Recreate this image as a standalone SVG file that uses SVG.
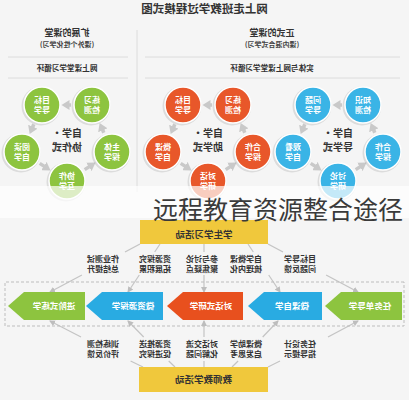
<svg xmlns="http://www.w3.org/2000/svg" width="409" height="400" viewBox="0 0 409 400">
<defs>
<style>
text{font-family:"Noto Sans CJK SC","Noto Sans",sans-serif;text-anchor:middle}
.t{font-size:11.5px;font-weight:bold;fill:#333}
.h{font-size:9px;font-weight:bold;fill:#333}
.s{font-size:7px;font-weight:bold;fill:#444}
.c{font-size:7.6px;font-weight:bold;fill:#333}
.ct{font-size:10px;font-weight:bold;fill:#333}
.nt{font-size:8px;font-weight:bold;fill:#fff}
.col{font-size:8px;font-weight:bold;fill:#333}
.bt{font-size:8.5px;font-weight:bold;fill:#fff}
.yt{font-size:9.5px;font-weight:bold;fill:#333}
.sep{stroke:#dcdcdc;stroke-width:1}
.g{fill:#8dc43f}.o{fill:#e8572a}.b{fill:#3ab4e6}
.ring{stroke:#fff;stroke-width:1.5}
.sh{fill:#000;opacity:.1}
.ca{stroke:#c9c9c9;stroke-width:3.5;fill:none;marker-end:url(#ca)}
.ln{stroke:#c4c4c4;stroke-width:1.2;fill:none}
.la{stroke:#c4c4c4;stroke-width:1.2;fill:none;marker-end:url(#la)}
.yb{fill:#f0c83c}
</style>
<marker id="ca" markerUnits="userSpaceOnUse" markerWidth="9" markerHeight="10" refX="3" refY="5" orient="auto"><path d="M0,0 L8,5 L0,10 z" fill="#c9c9c9"/></marker>
<marker id="la" markerUnits="userSpaceOnUse" markerWidth="7" markerHeight="7" refX="5" refY="3" orient="auto"><path d="M0,0 L6,3 L0,6 z" fill="#bdbdbd"/></marker>
</defs>
<rect width="409" height="400" fill="#f5f5f5"/>
<g id="mirrored" transform="matrix(-1,0,0,1,409,0)">
<g id="header">
<text class="t" x="204.5" y="13">网上走班教学过程模式图</text>
<line class="sep" x1="272" y1="30" x2="272" y2="192"/>
<text class="h" x="137" y="36">正式的课堂</text>
<text class="s" x="137" y="47">(课内混合式学习)</text>
<line class="sep" x1="9" y1="57" x2="264" y2="57"/>
<text class="c" x="137" y="71">实体与网上课堂学习循环</text>
<line class="sep" x1="9" y1="78" x2="264" y2="78"/>
<text class="h" x="342" y="36">扩展的课堂</text>
<text class="s" x="342" y="47">(课外个性化学习)</text>
<line class="sep" x1="281" y1="57" x2="401" y2="57"/>
<text class="c" x="342" y="71">网上课堂学习循环</text>
<line class="sep" x1="281" y1="78" x2="401" y2="78"/>
</g>
<g id="connectors">
<path class="ca" d="M375.2,124.3 L377.4,129.5"/><path class="ca" d="M369.3,163.4 L362.6,167.7"/><path class="ca" d="M324.3,169.6 L317.6,165.3"/><path class="ca" d="M305.2,132.7 L307.4,127.5"/><path class="ca" d="M338,105 L342.5,105"/>
<path class="ca" d="M234.2,124.3 L236.4,129.5"/><path class="ca" d="M228.3,163.4 L221.6,167.7"/><path class="ca" d="M183.3,169.6 L176.6,165.3"/><path class="ca" d="M164.2,132.7 L166.4,127.5"/><path class="ca" d="M197,105 L201.5,105"/>
<path class="ca" d="M104.2,124.3 L106.4,129.5"/><path class="ca" d="M98.3,163.4 L91.6,167.7"/><path class="ca" d="M53.3,169.6 L46.6,165.3"/><path class="ca" d="M34.2,132.7 L36.4,127.5"/><path class="ca" d="M67,105 L71.5,105"/>
<path class="ln" d="M269,244 L284,252"/><path class="la" d="M327.1,275 L359,292"/>
<path class="ln" d="M249,244 L254.3,252"/><path class="la" d="M269.7,275 L281,292"/>
<path class="ln" d="M205,244 L205,252"/><path class="la" d="M205,275 L205,292"/>
<path class="ln" d="M161,244 L155.7,252"/><path class="la" d="M140.3,275 L129,292"/>
<path class="ln" d="M141,244 L126,252"/><path class="la" d="M82.9,275 L51,292"/>
<path class="la" d="M328,337 L359,321"/><path class="ln" d="M278.4,361 L266,367"/>
<path class="la" d="M265.3,337 L281,321"/><path class="ln" d="M240.3,361 L234,367"/>
<path class="la" d="M205,337 L205,321"/><path class="ln" d="M205,361 L205,367"/>
<path class="la" d="M146.3,337 L131,321"/><path class="ln" d="M170.9,361 L177,367"/>
<path class="la" d="M81,337 L51,321"/><path class="ln" d="M129,361 L141,367"/>
</g>
<g id="cycle-green">
<text class="ct" x="342" y="137">自学·</text><text class="ct" x="342" y="151">协作式</text>
</g>
<g id="g-tr"><circle class="sh" cx="368" cy="106" r="19.5"/><circle class="g ring" cx="367" cy="105" r="18"/><text class="nt" x="367" y="103">目标</text><text class="nt" x="367" y="113">导学</text></g>
<g id="g-r"><circle class="sh" cx="388" cy="153" r="19.5"/><circle class="g ring" cx="387" cy="152" r="18"/><text class="nt" x="387" y="150">阅读</text><text class="nt" x="387" y="160">自学</text></g>
<g id="g-b"><circle class="sh" cx="343" cy="182" r="19.5"/><circle class="g ring" cx="342" cy="181" r="18"/><text class="nt" x="342" y="179">协作</text><text class="nt" x="342" y="189">互学</text></g>
<g id="g-l"><circle class="sh" cx="298" cy="153" r="19.5"/><circle class="g ring" cx="297" cy="152" r="18"/><text class="nt" x="297" y="150">主体</text><text class="nt" x="297" y="160">探学</text></g>
<g id="g-tl"><circle class="sh" cx="318" cy="106" r="19.5"/><circle class="g ring" cx="317" cy="105" r="18"/><text class="nt" x="317" y="103">练习</text><text class="nt" x="317" y="113">检测</text></g>
<g id="cycle-orange">
<text class="ct" x="201" y="137">自学·</text><text class="ct" x="201" y="151">助学式</text>
</g>
<g id="o-tr"><circle class="sh" cx="227" cy="106" r="19.5"/><circle class="o ring" cx="226" cy="105" r="18"/><text class="nt" x="226" y="103">目标</text><text class="nt" x="226" y="113">导学</text></g>
<g id="o-r"><circle class="sh" cx="247" cy="153" r="19.5"/><circle class="o ring" cx="246" cy="152" r="18"/><text class="nt" x="246" y="150">微课</text><text class="nt" x="246" y="160">自学</text></g>
<g id="o-b"><circle class="sh" cx="202" cy="182" r="19.5"/><circle class="o ring" cx="201" cy="181" r="18"/><text class="nt" x="201" y="179">对话</text><text class="nt" x="201" y="189">研学</text></g>
<g id="o-l"><circle class="sh" cx="157" cy="153" r="19.5"/><circle class="o ring" cx="156" cy="152" r="18"/><text class="nt" x="156" y="150">合作</text><text class="nt" x="156" y="160">探学</text></g>
<g id="o-tl"><circle class="sh" cx="177" cy="106" r="19.5"/><circle class="o ring" cx="176" cy="105" r="18"/><text class="nt" x="176" y="103">练习</text><text class="nt" x="176" y="113">检测</text></g>
<g id="cycle-blue">
<text class="ct" x="71" y="137">自学·</text><text class="ct" x="71" y="151">导学式</text>
</g>
<g id="b-tr"><circle class="sh" cx="97" cy="106" r="19.5"/><circle class="b ring" cx="96" cy="105" r="18"/><text class="nt" x="96" y="103">问题</text><text class="nt" x="96" y="113">导学</text></g>
<g id="b-r"><circle class="sh" cx="117" cy="153" r="19.5"/><circle class="b ring" cx="116" cy="152" r="18"/><text class="nt" x="116" y="150">观看</text><text class="nt" x="116" y="160">自学</text></g>
<g id="b-b"><circle class="sh" cx="72" cy="182" r="19.5"/><circle class="b ring" cx="71" cy="181" r="18"/><text class="nt" x="71" y="179">讨论</text><text class="nt" x="71" y="189">研学</text></g>
<g id="b-l"><circle class="sh" cx="27" cy="153" r="19.5"/><circle class="b ring" cx="26" cy="152" r="18"/><text class="nt" x="26" y="150">合作</text><text class="nt" x="26" y="160">探学</text></g>
<g id="b-tl"><circle class="sh" cx="47" cy="106" r="19.5"/><circle class="b ring" cx="46" cy="105" r="18"/><text class="nt" x="46" y="103">知识</text><text class="nt" x="46" y="113">检测</text></g>
<g id="student-box"><rect class="yb" x="141" y="220" width="128" height="24"/><text class="yt" x="205" y="237.5">学生学习活动</text></g>
<g id="student-texts">
<text class="col" x="109" y="262">目标导学</text><text class="col" x="109" y="272">问题反馈</text>
<text class="col" x="163" y="262">自学微课</text><text class="col" x="163" y="272">梳理内化</text>
<text class="col" x="207" y="262">参与讨论</text><text class="col" x="207" y="272">聚焦疑点</text>
<text class="col" x="254" y="262">资源探究</text><text class="col" x="254" y="272">拓展积累</text>
<text class="col" x="306" y="262">作业测试</text><text class="col" x="306" y="272">总结提升</text>
</g>
<rect x="5" y="282" width="399" height="44" fill="none" stroke="#bdbdbd" stroke-width="1" stroke-dasharray="3,2"/>
<g id="s1"><polygon class="g" points="7,292 68,292 84,306 68,320 7,320"/><text class="bt" x="39" y="309">任务单导学</text></g>
<g id="s2"><polygon fill="#29abe2" points="87,292 145,292 161,306 145,320 87,320"/><text class="bt" x="117" y="309">微课自学</text></g>
<g id="s3"><polygon fill="#e8501e" points="166,292 226,292 242,306 226,320 166,320"/><text class="bt" x="198" y="309">对话式研学</text></g>
<g id="s4"><polygon fill="#29abe2" points="246,292 307,292 323,306 307,320 246,320"/><text class="bt" x="276" y="309">微资源探学</text></g>
<g id="s5"><polygon class="g" points="324,292 385,292 401,306 385,320 324,320"/><text class="bt" x="355" y="309">进阶式练学</text></g>
<g id="teacher-texts">
<text class="col" x="109" y="346.5">任务设计</text><text class="col" x="109" y="357">指导提示</text>
<text class="col" x="163" y="346.5">微课助学</text><text class="col" x="163" y="357">启发思考</text>
<text class="col" x="207" y="346.5">对话交流</text><text class="col" x="207" y="357">化解问题</text>
<text class="col" x="254" y="346.5">资源推送</text><text class="col" x="254" y="357">促进探究</text>
<text class="col" x="306" y="346.5">训练检测</text><text class="col" x="306" y="357">评价反馈</text>
</g>
<g id="teacher-box"><rect class="yb" x="141" y="367" width="129" height="25"/><text class="yt" x="205.5" y="383">教师教学活动</text></g>
</g>
<rect x="0" y="186" width="409" height="32" fill="#fff" opacity="0.7"/>
<text x="153" y="219" style="font-size:25px;fill:#3a3a3a;text-anchor:start;font-weight:normal">远程教育资源整合途径</text>
</svg>
